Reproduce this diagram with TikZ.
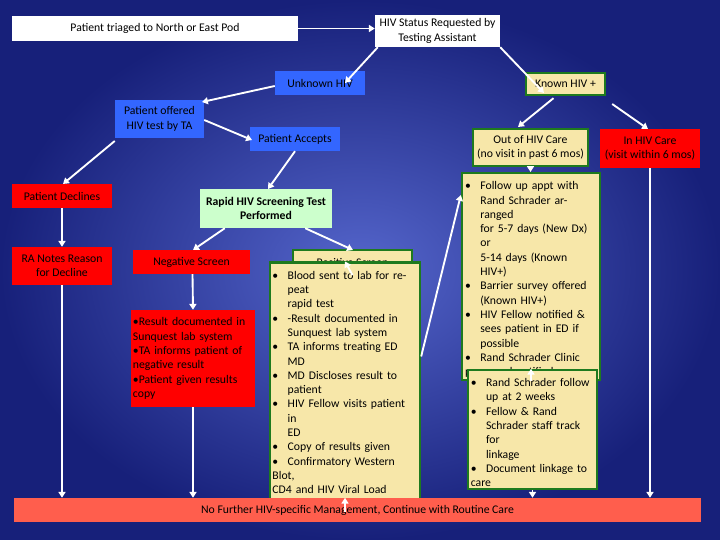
\documentclass[tikz,border=0pt]{standalone}
\usepackage{fontspec}
\setmainfont{Carlito}
\usetikzlibrary{arrows.meta}
\definecolor{bgin}{HTML}{5566CC}
\definecolor{bgout}{HTML}{17207A}
\definecolor{tblue}{HTML}{3366FF}
\definecolor{tred}{HTML}{FF0000}
\definecolor{ttan}{HTML}{F7E7A9}
\definecolor{tgreen}{HTML}{1E7A1E}
\definecolor{tlgreen}{HTML}{CCFFCC}
\definecolor{tsalmon}{HTML}{FF5E4D}
\newcommand\bx[7]{\node[#6, minimum width={(#4-#2)*0.03cm}, minimum height={(#5-#3)*0.03cm}]
  (#1) at ({(#2+#4)/2},{(#3+#5)/2}) {#7};}
\newcommand\bl[1]{\par\hangindent=1.3em\hangafter=1\noindent\makebox[1.3em][l]{\textbullet}#1}
\tikzset{
  box/.style={inner sep=1pt, font=\fontsize{10}{12.2}\selectfont, align=center},
  lst/.style={align=left, inner sep=2pt, font=\fontsize{10}{12.2}\selectfont},
  wbox/.style={box, fill=white},
  bbox/.style={box, fill=tblue},
  rbox/.style={box, fill=tred},
  gbox/.style={box, fill=ttan, draw=tgreen, line width=2pt},
  lbox/.style={box, fill=tlgreen, font=\fontsize{10}{12.2}\selectfont\bfseries},
  flow/.style={draw=white, line width=1.6pt, -{Triangle[length=5pt,width=6pt]}}
}
\begin{document}
\begin{tikzpicture}[x=0.03cm, y=-0.03cm]
\shade[inner color=bgin, outer color=bgout] (0,0) rectangle (720,540);
\useasboundingbox (0,0) rectangle (720,540);
\bx{tri}{12}{16}{298}{41}{wbox}{Patient triaged to North or East Pod}
\bx{req}{375}{15}{500}{47}{wbox}{HIV Status Requested by\\Testing Assistant}
\bx{unk}{275}{71}{365}{95}{bbox}{Unknown HIV}
\bx{kno}{526}{73}{605}{95}{gbox}{Known HIV +}
\bx{off}{115}{100}{204}{138}{bbox}{Patient offered\\HIV test by TA}
\bx{acc}{250}{127}{340}{151}{bbox}{Patient Accepts}
\bx{out}{473}{129}{588}{166}{gbox}{Out of HIV Care\\(no visit in past 6 mos)}
\bx{inc}{600}{129}{700}{168}{rbox}{In HIV Care\\(visit within 6 mos)}
\bx{dec}{12}{184}{112}{208}{rbox}{Patient Declines}
\bx{rap}{200}{189}{332}{228}{lbox}{Rapid HIV Screening Test\\Performed}
\bx{fol}{462}{193}{600}{360}{gbox, lst, text width=3.95cm}{%
\bl{Follow up appt with\newline Rand Schrader arranged\newline for 5-7 days (New Dx) or\newline 5-14 days (Known HIV+)}%
\bl{Barrier survey offered\newline (Known HIV+)}%
\bl{HIV Fellow notified \&\newline sees patient in ED if\newline possible}%
\bl{Rand Schrader Clinic\newline personnel notified}}
\bx{ran}{12}{247}{112}{285}{rbox}{RA Notes Reason\\for Decline}
\bx{neg}{133}{250}{250}{274}{rbox}{Negative Screen}
\bx{pos}{293}{250}{412}{274}{gbox}{Positive Screen}
\bx{res}{131}{310}{255}{407}{rbox, lst, text width=3.6cm}{%
\textbullet Result documented in\newline Sunquest lab system\newline \textbullet TA informs patient of\newline negative result\newline \textbullet Patient given results\newline copy}
\bx{blo}{270}{288}{420}{485}{gbox, lst, text width=4.35cm}{%
\bl{Blood sent to lab for repeat\newline rapid test}%
\bl{-Result documented in\newline Sunquest lab system}%
\bl{TA informs treating ED MD}%
\bl{MD Discloses result to\newline patient}%
\bl{HIV Fellow visits patient in\newline ED}%
\bl{Copy of results given}%
\bl{Confirmatory Western Blot,\newline CD4 and HIV Viral Load\newline drawn in ED}}
\bx{rsf}{468}{376}{597}{483}{gbox, lst, text width=3.7cm}{%
\bl{Rand Schrader follow\newline up at 2 weeks}%
\bl{Fellow \& Rand\newline Schrader staff track for\newline linkage}%
\bl{Document linkage to\newline care}}
\bx{end}{14}{498}{701}{522}{box, fill=tsalmon}{No Further HIV-specific Management, Continue with Routine Care}
% connectors
\draw[flow] (tri.east) -- (req.west |- tri.east);
\draw[flow] (req.south west) ++(3,0) -- (345,83);
\draw[flow] (req.south east) -- (544,93);
\draw[flow] (unk.west) ++(0,3) -- (202,102);
\draw[flow] (off.west) ++(0,22) -- (63,184);
\draw[flow] (off.east) ++(0,1) -- (252,140);
\draw[flow] (acc.south) -- (268,189);
\draw[flow] (kno.south) ++(-12,2) -- (518,127);
\draw[flow] (kno.east) ++(6,20) -- (648,129);
\draw[flow] (out.south) -- (fol.north -| out.south);
\draw[flow] (dec.south) -- (ran.north);
\draw[flow] (rap.south west) ++(25,0) -- (193,250);
\draw[flow] (rap.south east) ++(-27,0) -- (353,250);
\draw[flow] (neg.south) ++(1,0) -- (res.north -| 193,0);
\draw[flow] (pos.south) -- (blo.north -| 345,0);
\draw[flow] (blo.east) ++(0,-30) -- (fol.west |- 0,195);
\draw[flow] (fol.south) -- (rsf.north -| fol.south);
\draw[flow] (ran.south) -- (end.north -| ran.south);
\draw[flow] (res.south) -- (end.north -| res.south);
\draw[flow] (blo.south) -- (end.north -| blo.south);
\draw[flow] (rsf.south) -- (end.north -| rsf.south);
\draw[flow] (inc.south) -- (end.north -| inc.south);
\end{tikzpicture}
\end{document}
